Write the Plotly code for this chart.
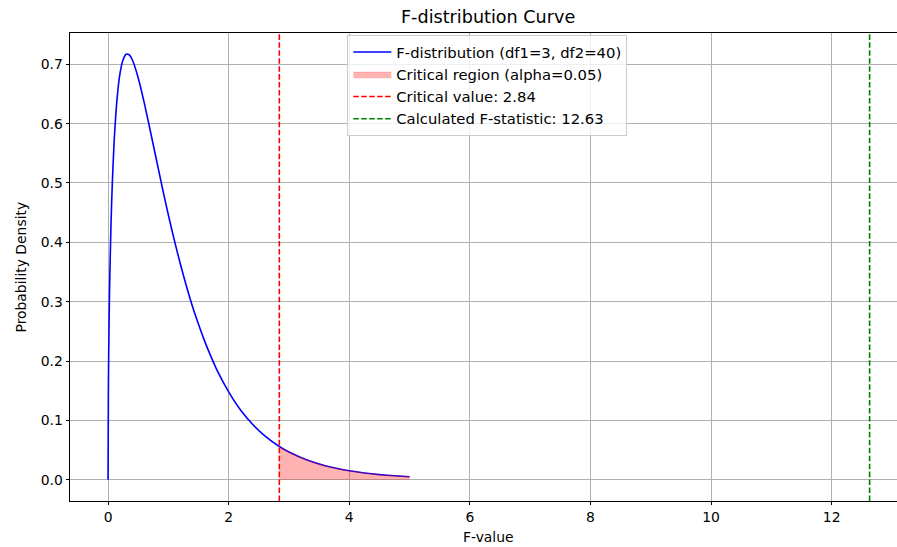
import plotly.graph_objects as go

# F-distribution density (df1=3, df2=40), sampled along the F axis
f_values = [0.0, 0.005, 0.01, 0.02, 0.03, 0.05, 0.07, 0.1, 0.15, 0.2, 0.25, 0.3, 0.35, 0.4,
            0.5, 0.6, 0.7, 0.8, 0.9, 1.0, 1.1, 1.2, 1.3, 1.4, 1.5, 1.6, 1.7, 1.8, 2.0,
            2.2, 2.4, 2.6, 2.84, 3.0, 3.3, 3.6, 3.8, 4.0, 4.25, 4.5, 4.75, 5.0]
density = [0.0, 0.149, 0.208, 0.289, 0.349, 0.436, 0.499, 0.569, 0.643, 0.686, 0.708, 0.717,
           0.716, 0.708, 0.677, 0.635, 0.588, 0.540, 0.492, 0.446, 0.403, 0.363, 0.326,
           0.292, 0.262, 0.234, 0.209, 0.186, 0.148, 0.117, 0.093, 0.074, 0.056, 0.0466,
           0.0331, 0.0235, 0.0188, 0.0150, 0.0114, 0.0086, 0.0066, 0.0050]

critical_value = 2.84
f_statistic = 12.63
alpha = 0.05

x_ticks = [0, 2, 4, 6, 8, 10, 12]
y_ticks = [0.0, 0.1, 0.2, 0.3, 0.4, 0.5, 0.6, 0.7]

FONT = "DejaVu Sans"
Y_LO, Y_HI = -0.03585, 0.7527
X_LO, X_HI = -0.6315, 13.084

crit_x = [x for x in f_values if x >= critical_value]
crit_y = [y for x, y in zip(f_values, density) if x >= critical_value]

dash = "5.55px,2.4px"

fig = go.Figure()
fig.add_trace(go.Scatter(
    x=f_values, y=density, mode="lines",
    line=dict(color="blue", width=1.6, shape="spline", smoothing=0.6),
    name="F-distribution (df1=3, df2=40)",
))
fig.add_trace(go.Scatter(
    x=crit_x, y=crit_y, mode="lines", fill="tozeroy",
    fillcolor="rgba(255,0,0,0.3)",
    line=dict(color="rgba(255,0,0,0.3)", width=0.8, shape="spline", smoothing=0.6),
    name=f"Critical region (alpha={alpha})",
))
fig.add_trace(go.Scatter(
    x=[critical_value, critical_value], y=[Y_LO, Y_HI], mode="lines",
    line=dict(color="red", width=1.6, dash=dash),
    name=f"Critical value: {critical_value:.2f}",
))
fig.add_trace(go.Scatter(
    x=[f_statistic, f_statistic], y=[Y_LO, Y_HI], mode="lines",
    line=dict(color="green", width=1.6, dash=dash),
    name=f"Calculated F-statistic: {f_statistic:.2f}",
))

axis_common = dict(
    showgrid=True, gridcolor="#b0b0b0", gridwidth=0.8,
    zeroline=False, showline=True, linecolor="black", linewidth=0.9,
    ticks="outside", ticklen=3.5, tickwidth=0.8, tickcolor="black",
    tickfont=dict(family=FONT, size=13.9, color="black"),
)

fig.update_layout(
    width=897, height=547,
    margin=dict(l=69.5, r=0, t=32.5, b=45.5),
    paper_bgcolor="white", plot_bgcolor="white",
    font=dict(family=FONT, size=13.9, color="black"),
    showlegend=True,
    legend=dict(
        x=0.3353, y=0.996, xanchor="left", yanchor="top",
        bgcolor="rgba(255,255,255,0.8)", bordercolor="#cccccc", borderwidth=1,
        font=dict(family=FONT, size=14.8, color="black"),
        tracegroupgap=0, itemwidth=38,
    ),
    xaxis=dict(range=[X_LO, X_HI], tickvals=x_ticks, ticktext=[str(v) for v in x_ticks],
               mirror=True, **axis_common),
    yaxis=dict(range=[Y_LO, Y_HI], tickvals=y_ticks, ticktext=[f"{v:.1f}" for v in y_ticks],
               mirror=False, **axis_common),
    annotations=[
        dict(text="F-distribution Curve", xref="paper", yref="paper",
             x=0.5057, y=1, yshift=16, xanchor="center", yanchor="middle",
             showarrow=False, font=dict(family=FONT, size=17.6, color="black")),
        dict(text="F-value", xref="paper", yref="paper",
             x=0.5057, y=0, yshift=-36, xanchor="center", yanchor="middle",
             showarrow=False, font=dict(family=FONT, size=13.9, color="black")),
        dict(text="Probability Density", xref="paper", yref="paper",
             x=0, xshift=-49.5, y=0.5, xanchor="center", yanchor="middle", textangle=-90,
             showarrow=False, font=dict(family=FONT, size=13.9, color="black")),
    ],
)

fig.write_html("out.html")
